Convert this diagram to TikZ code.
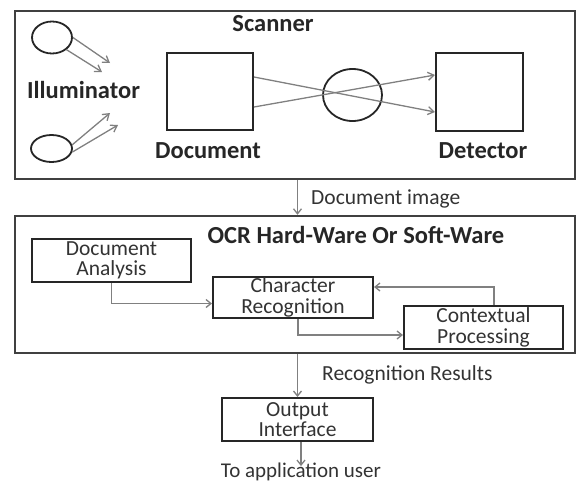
\documentclass[tikz,border=0pt]{standalone}
\usepackage{fontspec}
\setmainfont{Carlito}
\usetikzlibrary{arrows.meta,shapes.geometric,calc}

\begin{document}
\begin{tikzpicture}[x=1pt,y=-1pt,
  frame/.style={draw=black!75, line width=2.4pt, rectangle, inner sep=0pt},
  blk/.style={draw=black!85, line width=2pt, rectangle, inner sep=0pt},
  box/.style={blk, align=center, text=black!80,
    font=\fontsize{21.5}{20.5}\selectfont},
  lamp/.style={draw=black!85, line width=1.8pt, ellipse, inner sep=0pt},
  head/.style={font=\fontsize{24.5}{26}\selectfont\bfseries, text=black!85,
    inner sep=0pt, text height=0.64em, text depth=0pt},
  lbl/.style={font=\fontsize{21.5}{23}\selectfont, text=black!80,
    inner sep=0pt, text height=0.64em, text depth=0pt},
  ray/.style={draw=black!50, line width=1.3pt, -{Straight Barb[length=6pt,width=8pt]}},
  link/.style={draw=black!50, line width=1.3pt, -{Straight Barb[length=5pt,width=8pt]}},
]
\useasboundingbox (0,0) rectangle (576,485);

% ---- scanner stage ----
\node[frame, minimum width=560, minimum height=168] (scanner) at (295,95) {};
\node[head] (scantitle) at (273,28) {Scanner};

\node[lamp, minimum width=40, minimum height=32] (lamp1) at (52,37.5) {};
\node[lamp, minimum width=41, minimum height=27] (lamp2) at (51.5,148.5) {};
\coordinate (l1a) at (110,63);
\coordinate (l1b) at (102,72);
\coordinate (l2a) at (110,113);
\coordinate (l2b) at (118,125);
\draw[ray] (lamp1.east) -- (l1a);
\draw[ray] (lamp1.-40) -- (l1b);
\draw[ray] (lamp2.10) -- (l2a);
\draw[ray] (lamp2.-10) -- (l2b);
\node[head] (illum) at (83.5,95) {Illuminator};

\node[blk, minimum width=86, minimum height=77] (doc) at (210,91.5) {};
\node[blk, minimum width=87, minimum height=78] (det) at (479.5,92) {};
\node[lamp, minimum width=59, minimum height=52] (lens) at (352.5,95) {};
\draw[ray] ($(doc.east)+(0,-14.5)$) -- ($(det.west)+(0,20)$);
\draw[ray] ($(doc.east)+(0,15.5)$) -- ($(det.west)+(0,-17)$);
\node[head] (doclbl) at (208,155) {Document};
\node[head] (detlbl) at (483,155) {Detector};

% ---- OCR stage ----
\node[frame, minimum width=560, minimum height=137] (ocr) at (295,284.5) {};
\node[head] (ocrtitle) at (356,240) {OCR Hard-Ware Or Soft-Ware};

\node[box, minimum width=159, minimum height=43] (da) at (111.5,260.5) {Document\\Analysis};
\node[box, minimum width=160, minimum height=41] (cr) at (293,297.5) {Character\\Recognition};
\node[box, minimum width=159, minimum height=43] (ctx) at (483.5,327.5) {Contextual\\Processing};

\draw[link] (da.south) |- ($(cr.west)+(0,6)$);
\draw[link] ($(cr.south)+(5,0)$) |- ($(ctx.west)+(0,7.5)$);
\draw[link] ($(ctx.north)+(10.5,0)$) |- ($(cr.east)+(0,-10.5)$);

% ---- output stage ----
\node[box, minimum width=151, minimum height=43] (out) at (297.5,419.5) {Output\\Interface};
\node[lbl, font=\fontsize{21}{23}\selectfont] (user) at (301,474.5) {To application user};

\draw[link] (scanner.south -| out.north) -- (ocr.north -| out.north);
\node[lbl, anchor=west] (imglbl) at (311,201) {Document image};
\draw[link] (ocr.south -| out.north) -- (out.north);
\node[lbl, anchor=west] (reslbl) at (322,377) {Recognition Results};
\draw[link, shorten >=5pt] (out.south -| user.north) -- (user.north);
\end{tikzpicture}
\end{document}
